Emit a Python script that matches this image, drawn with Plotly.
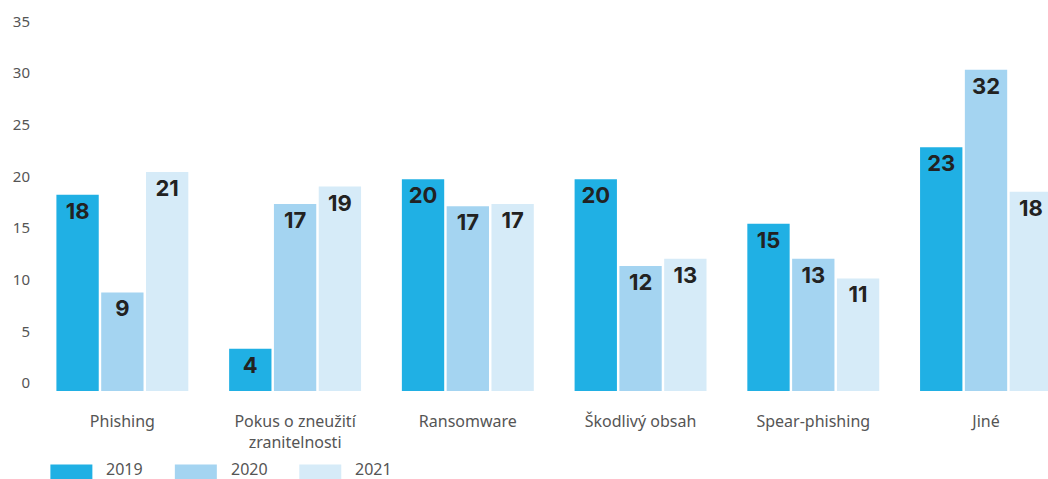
import plotly.graph_objects as go

categories = ["Phishing", "Pokus o zneužití<br>zranitelnosti", "Ransomware",
              "Škodlivý obsah", "Spear-phishing", "Jiné"]
years = ["2019", "2020", "2021"]
# bar heights as drawn
values_2019 = [19.0, 4.1, 20.5, 20.5, 16.2, 23.6]
values_2020 = [9.55, 18.1, 17.9, 12.1, 12.8, 31.1]
values_2021 = [21.2, 19.8, 18.1, 12.8, 10.9, 19.3]
# printed labels
labels_2019 = ["18", "4", "20", "20", "15", "23"]
labels_2020 = ["9", "17", "17", "12", "13", "32"]
labels_2021 = ["21", "19", "17", "13", "11", "18"]
colors = ["#20b0e4", "#a4d4f1", "#d6ebf8"]
y_ticks = [0, 5, 10, 15, 20, 25, 30, 35]

W, H = 1048, 479
L, R, T, B = 35.6, 0, 20, 87.5
plot_w = W - L - R
plot_h = H - T - B
cat_px = 172.8

fig = go.Figure()
for yr, vals, labs, col in zip(years, [values_2019, values_2020, values_2021],
                               [labels_2019, labels_2020, labels_2021], colors):
    fig.add_trace(go.Bar(
        x=categories, y=vals, name=yr, marker=dict(color=col, line=dict(width=0)),
        text=labs, textposition="inside", insidetextanchor="end",
        textfont=dict(family="Inter", size=22, color="#222222", weight=700),
        textangle=0, showlegend=False,
    ))

# custom legend with wide swatches
for i, (yr, col) in enumerate(zip(years, colors)):
    px0 = 50 + i * 124.5
    fig.add_shape(type="rect", xref="paper", yref="paper",
                  x0=(px0 - L) / plot_w, x1=(px0 + 42 - L) / plot_w,
                  y0=(T + plot_h - 465) / plot_h, y1=(T + plot_h - 485) / plot_h,
                  fillcolor=col, line=dict(width=0), layer="above")
    fig.add_annotation(xref="paper", yref="paper",
                       x=(px0 + 55 - L) / plot_w, y=(T + plot_h - 470) / plot_h,
                       text=yr, showarrow=False, xanchor="left", yanchor="middle",
                       borderpad=0,
                       font=dict(family="Noto Sans", size=16, color="#555555"))

fig.update_layout(
    width=W, height=H,
    margin=dict(l=L, r=R, t=T, b=B, pad=0),
    paper_bgcolor="white", plot_bgcolor="white",
    barmode="group", bargap=0.222, bargroupgap=0.055,
    font=dict(family="Noto Sans", size=15, color="#555555"),
)
fig.update_xaxes(
    type="category", range=[-0.5, -0.5 + plot_w / cat_px],
    showgrid=False, showline=False, zeroline=False, ticks="",
    ticklabelstandoff=19, tickfont=dict(size=16, color="#555555"),
)
fig.update_yaxes(
    range=[0, plot_h / 10.34], tickvals=y_ticks,
    showgrid=False, showline=False, zeroline=False, ticks="",
    ticklabelshift=-8, ticklabelstandoff=5,
    tickfont=dict(size=15, color="#555555"),
)

fig.write_html("out.html")
